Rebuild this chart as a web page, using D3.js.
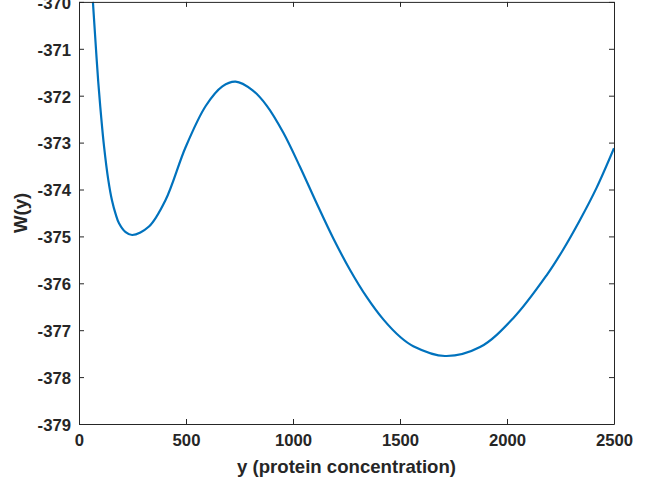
<!DOCTYPE html>
<html>
<head>
<meta charset="utf-8">
<script src="https://cdn.jsdelivr.net/npm/d3@7"></script>
<style>
  html, body { margin: 0; padding: 0; background: #fff; }
  svg { display: block; }
  text { font-family: "Liberation Sans", Arial, Helvetica, sans-serif; font-weight: bold; fill: #262626; }
</style>
</head>
<body>
<svg id="chart" width="655" height="486"></svg>
<script>
// Data
const yConc = [65, 75, 90, 103, 117, 137, 154, 171, 187, 218, 249, 327, 405, 498, 592, 670, 732, 810, 877, 955, 1033, 1111, 1188, 1266, 1344, 1422, 1500, 1562, 1710, 1874, 2030, 2185, 2260, 2341, 2419, 2500];
const wValues = [-370.00, -370.70, -371.71, -372.42, -373.08, -373.80, -374.23, -374.52, -374.72, -374.91, -374.97, -374.79, -374.22, -373.10, -372.22, -371.80, -371.70, -371.88, -372.21, -372.79, -373.52, -374.30, -375.04, -375.71, -376.29, -376.77, -377.14, -377.34, -377.55, -377.36, -376.74, -375.83, -375.30, -374.65, -373.96, -373.12];
const xTicks = [0, 500, 1000, 1500, 2000, 2500];
const yTicks = [-379, -378, -377, -376, -375, -374, -373, -372, -371, -370];
const xLabel = "y (protein concentration)";
const yLabel = "W(y)";

(function () {
const points = yConc.map((v, i) => ({ x: v, y: wValues[i] }));

const pL = 79, pR = 614, pT = 1.9, pB = 424;
const svg = d3.select("#chart");

const x = d3.scaleLinear().domain([0, 2500]).range([pL, pR]);
const y = d3.scaleLinear().domain([-379, -370]).range([pB, pT]);

svg.append("defs").append("clipPath").attr("id", "clip")
  .append("rect").attr("x", pL).attr("y", pT - 1).attr("width", pR - pL).attr("height", pB - pT + 1);

const line = d3.line().x(d => x(d.x)).y(d => y(d.y)).curve(d3.curveCatmullRom.alpha(0.5));
svg.append("path").datum(points)
  .attr("clip-path", "url(#clip)")
  .attr("d", line)
  .attr("fill", "none")
  .attr("stroke", "#0072BD")
  .attr("stroke-width", 2.2);

const axisColor = "#262626";
const fs = 16.7;
const fmt = d => String(d);

const gx = svg.append("g").attr("transform", `translate(0,${pB})`)
  .call(d3.axisBottom(x).tickValues(xTicks).tickSizeInner(-5).tickSizeOuter(0).tickPadding(10).tickFormat(fmt));
const gxt = svg.append("g").attr("transform", `translate(0,${pT})`)
  .call(d3.axisTop(x).tickValues(xTicks).tickSizeInner(-5).tickSizeOuter(0).tickFormat(""));
const gy = svg.append("g").attr("transform", `translate(${pL},0)`)
  .call(d3.axisLeft(y).tickValues(yTicks).tickSizeInner(-5).tickSizeOuter(0).tickPadding(8).tickFormat(fmt));
const gyr = svg.append("g").attr("transform", `translate(${pR},0)`)
  .call(d3.axisRight(y).tickValues(yTicks).tickSizeInner(-5).tickSizeOuter(0).tickFormat(""));

[gx, gxt, gy, gyr].forEach(g => {
  g.select(".domain").attr("stroke", axisColor).attr("stroke-width", 1);
  g.selectAll(".tick line").attr("stroke", axisColor).attr("stroke-width", 1);
  g.selectAll("text").attr("fill", axisColor).style("font-size", fs + "px")
    .style("font-family", '"Liberation Sans", Arial, sans-serif').style("font-weight", "bold");
});
gx.selectAll(".tick text").attr("dy", "0.71em");
gy.selectAll(".tick text").attr("dy", "0.38em");

svg.append("text")
  .attr("x", (pL + pR) / 2).attr("y", 473)
  .attr("text-anchor", "middle")
  .style("font-size", "18.6px")
  .text(xLabel);

svg.append("text")
  .attr("transform", `translate(27,${(pT + pB) / 2}) rotate(-90)`)
  .attr("text-anchor", "middle")
  .style("font-size", "18.6px")
  .text(yLabel);
})();
</script>
</body>
</html>
